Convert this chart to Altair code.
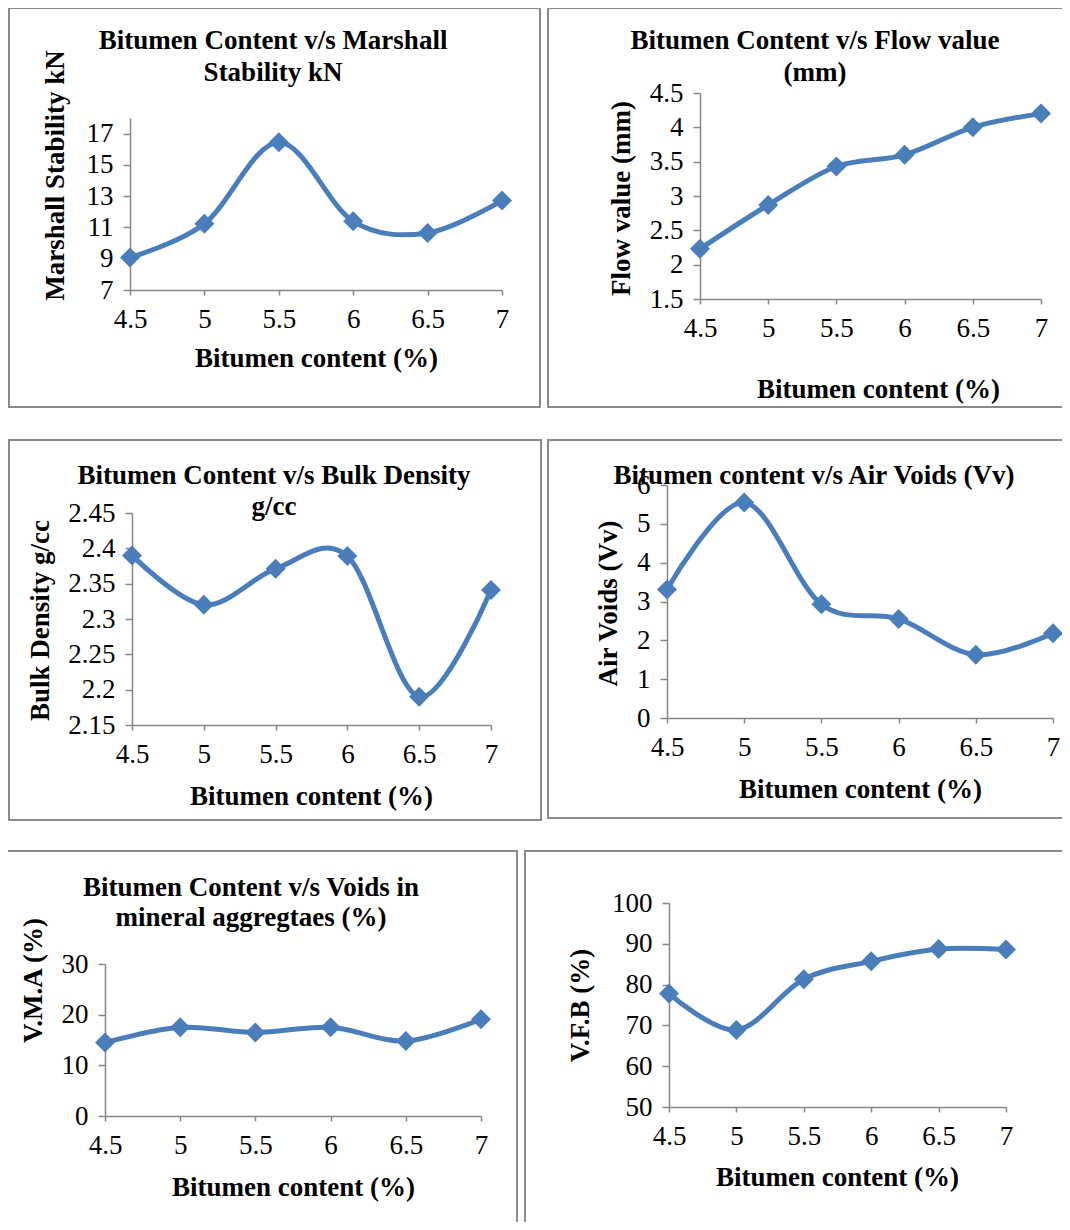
import altair as alt
import pandas as pd

# ---------------- data ----------------
bitumen = [4.5, 5.0, 5.5, 6.0, 6.5, 7.0]
marshall_stability = [9.08, 11.24, 16.45, 11.39, 10.65, 12.72]
flow_value = [2.23, 2.87, 3.43, 3.6, 4.0, 4.2]
bulk_density = [2.39, 2.32, 2.371, 2.389, 2.19, 2.341]
air_voids = [3.31, 5.55, 2.93, 2.55, 1.63, 2.18]
vma = [14.5, 17.5, 16.5, 17.5, 14.8, 19.1]
vfb = [77.8, 68.9, 81.3, 85.7, 88.7, 88.6]

ms_ticks = [7, 9, 11, 13, 15, 17]
flow_ticks = [1.5, 2, 2.5, 3, 3.5, 4, 4.5]
bulk_ticks = [2.15, 2.2, 2.25, 2.3, 2.35, 2.4, 2.45]
av_ticks = [0, 1, 2, 3, 4, 5, 6]
vma_ticks = [0, 10, 20, 30]
vfb_ticks = [50, 60, 70, 80, 90, 100]

x_title = "Bitumen content (%)"

# ---------------- layout ----------------
W, H = 1054, 1214
FONT = "Liberation Serif"
BLUE = "#4A7EBB"
GREY = "#878787"
LABEL_EXPR = "'' + datum.value"

panels = [
    dict(y=marshall_stability, ticks=ms_ticks, dom=[7, 18], ytitle="Marshall Stability kN",
         ax_x=122, ax_y=282, xr=[122, 494], yr=[282, 110],
         xt=(308, 350), yt=(47, 167),
         title=[("Bitumen Content v/s Marshall", 265, 33), ("Stability kN", 265, 65)],
         border=(1, 532, 0, 399)),
    dict(y=flow_value, ticks=flow_ticks, dom=[1.5, 4.5], ytitle="Flow value (mm)",
         ax_x=692, ax_y=291, xr=[692, 1033], yr=[291, 85],
         xt=(870, 381), yt=(613, 190),
         title=[("Bitumen Content v/s Flow value", 807, 33), ("(mm)", 807, 65)],
         border=(540, 1080, 0, 399)),
    dict(y=bulk_density, ticks=bulk_ticks, dom=[2.15, 2.45], ytitle="Bulk Density g/cc",
         ax_x=124, ax_y=717, xr=[124, 483], yr=[717, 505],
         xt=(303, 788), yt=(32, 612),
         title=[("Bitumen Content v/s Bulk Density", 266, 468), ("g/cc", 266, 499)],
         border=(1, 533, 432, 812)),
    dict(y=air_voids, ticks=av_ticks, dom=[0, 6], ytitle="Air Voids (Vv)",
         ax_x=659, ax_y=710, xr=[659, 1045], yr=[710, 477],
         xt=(852, 781), yt=(600, 595),
         title=[("Bitumen content v/s Air Voids (Vv)", 806, 468)],
         border=(540, 1080, 432, 810)),
    dict(y=vma, ticks=vma_ticks, dom=[0, 30], ytitle="V.M.A (%)",
         ax_x=97, ax_y=1108, xr=[97, 473], yr=[1108, 956],
         xt=(285, 1179), yt=(25, 972),
         title=[("Bitumen Content v/s Voids in", 243, 880), ("mineral aggregtaes (%)", 243, 910)],
         border=(-10, 509, 843, 1250)),
    dict(y=vfb, ticks=vfb_ticks, dom=[50, 100], ytitle="V.F.B (%)",
         ax_x=661, ax_y=1099, xr=[661, 998], yr=[1099, 895],
         xt=(829, 1169), yt=(572, 997),
         title=[],
         border=(517, 1058, 843, 1250)),
]

one = pd.DataFrame({"k": [0]})
layers = []

for p in panels:
    x0, x1, y0, y1 = p["border"]
    layers.append(
        alt.Chart(one).mark_rect(fillOpacity=0, stroke="#8a8a8a", strokeWidth=2).encode(
            x=alt.value(x0), x2=alt.value(x1), y=alt.value(y0), y2=alt.value(y1)
        )
    )

for p in panels:
    df = pd.DataFrame({"bc": bitumen, "val": p["y"]})
    xaxis = alt.Axis(
        orient="bottom", offset=p["ax_y"] - H, values=bitumen, labelExpr=LABEL_EXPR,
        title=x_title, titleX=p["xt"][0], titleY=p["xt"][1] - p["ax_y"],
        titleAlign="center", titleBaseline="middle",
        tickSize=5, labelPadding=11,
    )
    yaxis = alt.Axis(
        orient="left", offset=-p["ax_x"], values=p["ticks"], labelExpr=LABEL_EXPR,
        title=p["ytitle"], titleX=p["yt"][0] - p["ax_x"], titleY=p["yt"][1],
        titleAngle=270, titleAlign="center", titleBaseline="middle",
        tickSize=7, labelPadding=10,
    )
    ch = alt.Chart(df).mark_line(
        interpolate="cardinal", color=BLUE, strokeWidth=5,
        point=alt.OverlayMarkDef(shape="diamond", size=400, filled=True, color=BLUE, opacity=1),
    ).encode(
        x=alt.X("bc:Q", scale=alt.Scale(domain=[4.5, 7], range=p["xr"], nice=False, zero=False), axis=xaxis),
        y=alt.Y("val:Q", scale=alt.Scale(domain=p["dom"], range=p["yr"], nice=False, zero=False), axis=yaxis),
    )
    layers.append(ch)

for p in panels:
    for txt, tx, ty in p["title"]:
        layers.append(
            alt.Chart(one).mark_text(
                text=txt, font=FONT, fontSize=27, fontWeight="bold", color="black",
                align="center", baseline="middle",
            ).encode(x=alt.value(tx), y=alt.value(ty))
        )

chart = alt.layer(*layers).resolve_scale(
    x="independent", y="independent"
).resolve_axis(
    x="independent", y="independent"
).properties(
    width=W, height=H, autosize="none", padding=0
).configure_view(
    stroke=None
).configure_axis(
    grid=False,
    labelFont=FONT, labelFontSize=27, labelColor="black",
    titleFont=FONT, titleFontSize=27, titleFontWeight="bold", titleColor="black",
    domainColor=GREY, domainWidth=1.5, tickColor=GREY, tickWidth=1.5,
    labelOverlap=False, labelFlush=False,
)

chart.save("out.html", embed_options={"renderer": "svg", "actions": False})
